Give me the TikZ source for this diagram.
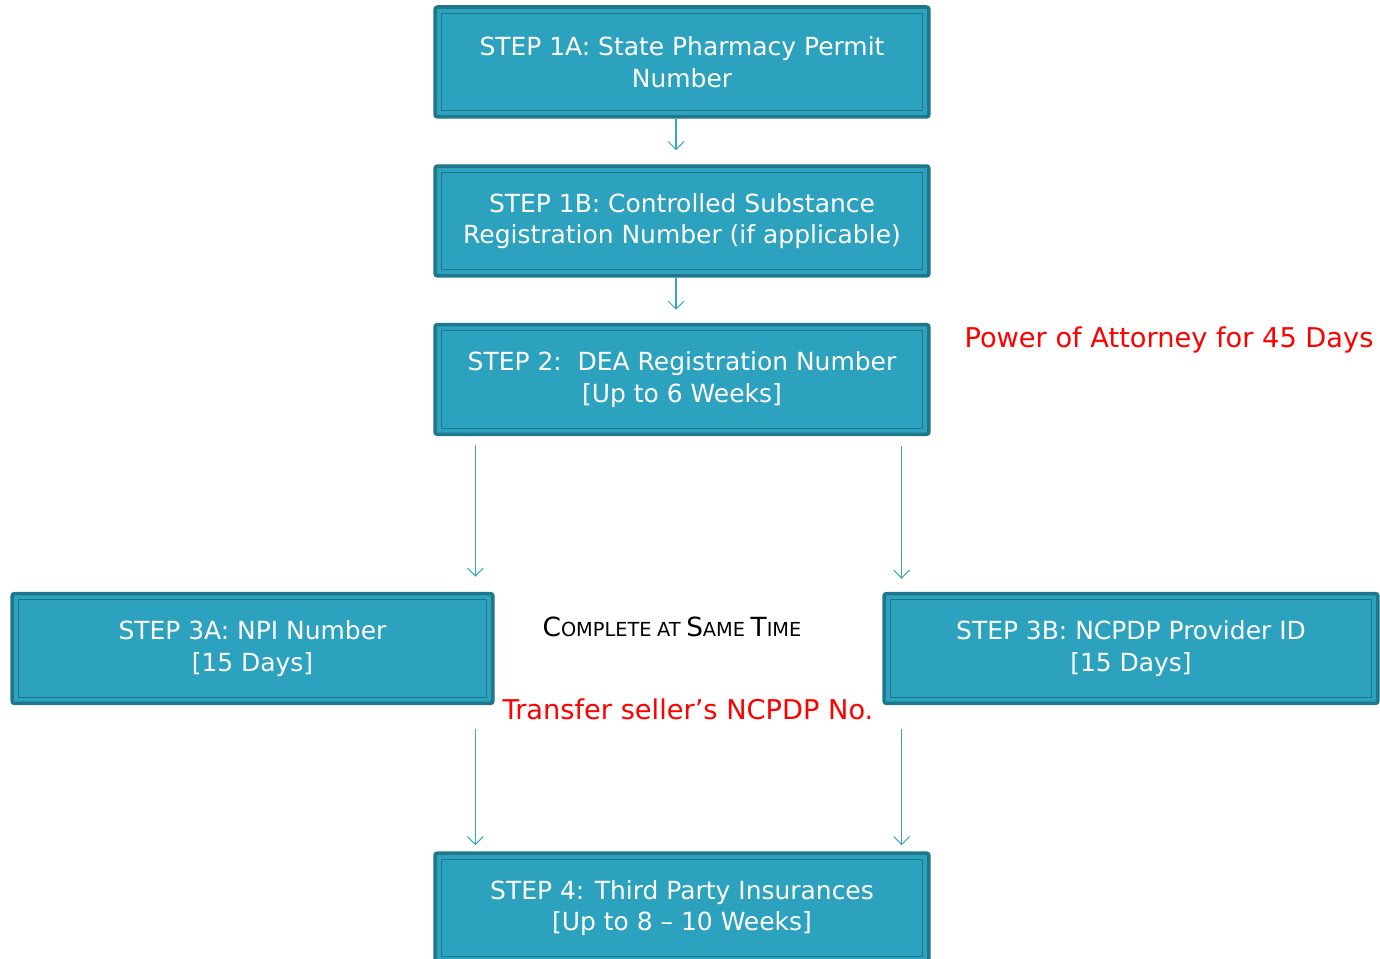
\documentclass[tikz,border=0pt]{standalone}
\usepackage{fontspec}
\setmainfont{DejaVu Sans}
\usetikzlibrary{arrows.meta,calc}
\definecolor{boxfill}{HTML}{2CA2BF}
\definecolor{boxline}{HTML}{1F778B}
\definecolor{linkcol}{HTML}{3AA6C2}
\tikzset{%
  tipV/.tip={Straight Barb[length=4.5pt,width=9pt]},
  stepbox/.style={draw=boxline, line width=2pt, fill=boxfill, rounded corners=1.5pt,
    text=white, align=center, inner sep=0pt, minimum width=9.88cm, minimum height=2.2cm,
    font=\fontsize{14.2}{18}\selectfont,
    path picture={\draw[boxline, line width=0.7pt, sharp corners]
      ([xshift=3.5pt,yshift=3.5pt]path picture bounding box.south west) rectangle
      ([xshift=-3.5pt,yshift=-3.5pt]path picture bounding box.north east);}},
  link/.style={draw=linkcol, line width=0.6pt, -{tipV}},
  note/.style={text=red, font=\fontsize{15.5}{18}\selectfont, inner sep=0pt}
}
\newcommand{\scword}[2]{{\fontsize{15}{16}\selectfont#1}{\fontsize{11}{16}\selectfont#2}}

\begin{document}
\begin{tikzpicture}[x=0.02cm,y=-0.02cm]
\clip (0,0) rectangle (1380,959);
\node[stepbox] (b1a) at (682,62) {STEP 1A: State Pharmacy Permit\\Number};
\node[stepbox] (b1b) at (682,221) {STEP 1B: Controlled Substance\\Registration Number (if applicable)};
\node[stepbox] (b2) at (682,379.5) {STEP 2:\ \ DEA Registration Number\\{[Up to 6 Weeks]}};
\node[stepbox, minimum width=9.62cm] (b3a) at (252.5,648.5) {STEP 3A: NPI Number\\{[15 Days]}};
\node[stepbox] (b3b) at (1131,648.5) {STEP 3B: NCPDP Provider ID\\{[15 Days]}};
\node[stepbox] (b4) at (682,908) {STEP 4: Third Party Insurances\\{[Up to 8 -- 10 Weeks]}};
\node[note] (poa) at (1169,340) {Power of Attorney for 45 Days};
\node[note] (xfer) at (688,709) {Transfer seller’s NCPDP No.};
\node[inner sep=0pt] (same) at (672,627) {\scword{C}{OMPLETE} {\fontsize{11}{16}\selectfont AT} \scword{S}{AME} \scword{T}{IME}};
% connectors
\coordinate (c1) at ($(b1a.south)+(-6,0)$);
\coordinate (lft) at ($(b2.south west)+(42,0)$);
\coordinate (rgt) at ($(b2.south east)+(-29,0)$);
\draw[link, shorten >=0.28cm] (c1) -- (c1 |- b1b.north);
\draw[link, shorten >=0.26cm] (c1 |- b1b.south) -- (c1 |- b2.north);
\draw[link, shorten <=0.18cm, shorten >=0.3cm] (lft) -- (lft |- b3a.north);
\draw[link, shorten <=0.2cm, shorten >=0.26cm] (rgt) -- (rgt |- b3b.north);
\draw[link, shorten <=0.48cm, shorten >=0.12cm] (lft |- b3a.south) -- (lft |- b4.north);
\draw[link, shorten <=0.48cm, shorten >=0.12cm] (rgt |- b3b.south) -- (rgt |- b4.north);
\end{tikzpicture}
\end{document}
